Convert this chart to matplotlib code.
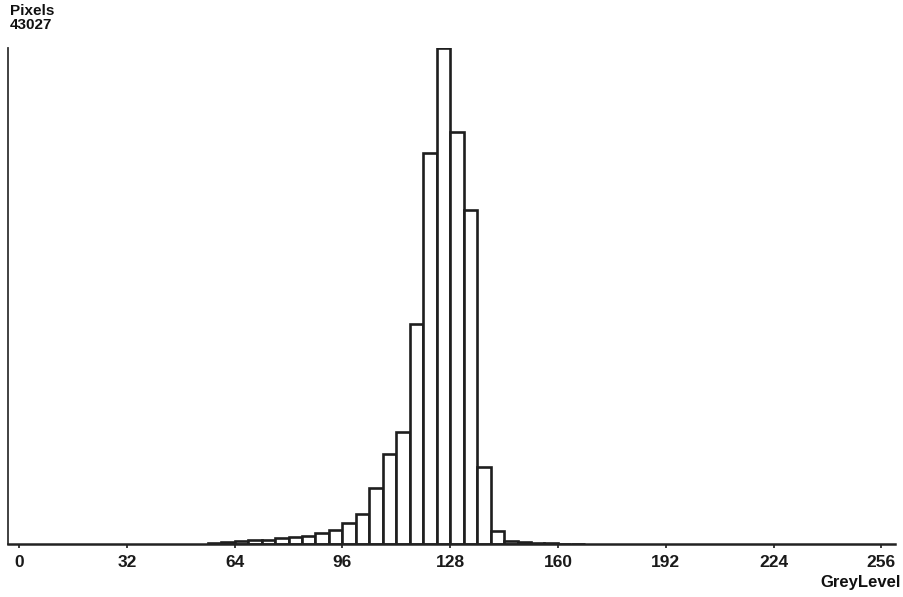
import matplotlib
matplotlib.use("Agg")
from matplotlib import pyplot as plt

plt.rcParams['font.family'] = ['Liberation Sans Narrow', 'Liberation Sans', 'DejaVu Sans']

# grey level histogram, bins of 4 grey levels (left edges)
bin_left = [56, 60, 64, 68, 72, 76, 80, 84, 88, 92, 96, 100, 104, 108, 112,
            116, 120, 124, 128, 132, 136, 140, 144, 148, 152, 156, 160, 164]
pixels = [70, 170, 260, 350, 350, 520, 610, 700, 950, 1210, 1820, 2600, 4860,
          7810, 9720, 19080, 33920, 43027, 35740, 28970, 6680, 1130, 260, 130,
          90, 60, 40, 30]
bin_width = 4
max_pixels = 43027
xticks = [0, 32, 64, 96, 128, 160, 192, 224, 256]

fig = plt.figure(figsize=(9.04, 5.97), dpi=100)
ax = fig.add_axes([0.0088, 0.0888, 0.981, 0.8308])

ax.bar(bin_left, pixels, width=bin_width, align='edge', facecolor='white',
       edgecolor='#1e1e1e', linewidth=1.9)

ax.set_xlim(-3.3, 260)
ax.set_ylim(0, max_pixels)
ax.set_xticks(xticks)
ax.set_xticklabels([str(t) for t in xticks], fontweight='bold', fontsize=12.5)
ax.tick_params(axis='x', direction='out', length=3, width=1.2, pad=5, colors='#1a1a1a')
ax.set_yticks([])
for side in ['top', 'right']:
    ax.spines[side].set_visible(False)
ax.spines['left'].set_color('#333333')
ax.spines['bottom'].set_color('#222222')
ax.spines['left'].set_linewidth(1.3)
ax.spines['bottom'].set_linewidth(1.8)

fig.text(0.011, 0.994, "Pixels\n" + str(max_pixels), ha='left', va='top',
         fontsize=11, fontweight='bold', linespacing=1.0, color='#111111')
fig.text(0.996, 0.024, "GreyLevel", ha='right', va='center',
         fontsize=12, fontweight='bold', color='#111111')

plt.savefig("out.png", dpi=100)
